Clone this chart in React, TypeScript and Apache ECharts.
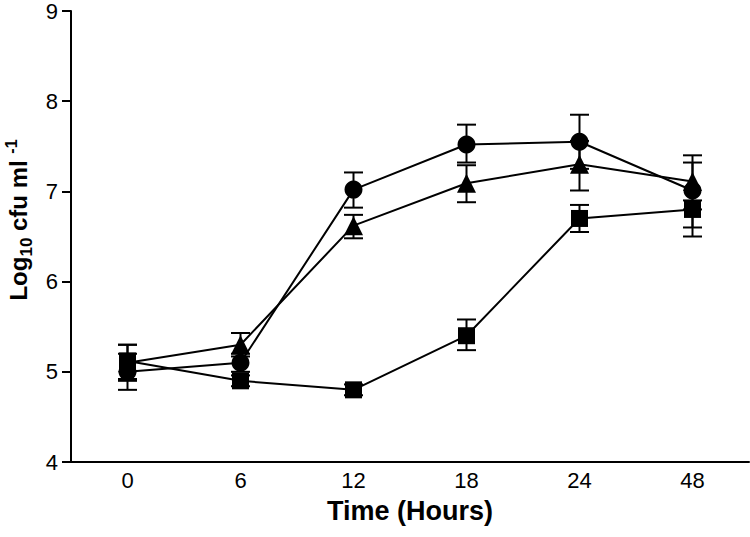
import React, { useEffect, useRef } from "react";
import * as echarts from "echarts";

const categories = ["0", "6", "12", "18", "24", "48"];

const circleMean = [5.0, 5.1, 7.02, 7.52, 7.55, 7.01];
const circleLow = [4.8, 5.0, 6.82, 7.32, 7.25, 6.5];
const circleHigh = [5.2, 5.2, 7.21, 7.74, 7.85, 7.32];

const triangleMean = [5.1, 5.3, 6.62, 7.09, 7.3, 7.11];
const triangleLow = [4.9, 5.17, 6.48, 6.88, 7.01, 6.8];
const triangleHigh = [5.3, 5.43, 6.74, 7.29, 7.56, 7.4];

const squareMean = [5.12, 4.9, 4.8, 5.4, 6.7, 6.8];
const squareLow = [4.92, 4.84, 4.74, 5.24, 6.55, 6.6];
const squareHigh = [5.3, 4.96, 4.86, 5.58, 6.85, 6.9];

const yTicks = { min: 4, max: 9, interval: 1 };

const FONT = "'Liberation Sans', Arial, Helvetica, sans-serif";

function errorSeries(low: number[], high: number[]) {
  return {
    type: "custom",
    silent: true,
    z: 1,
    data: low.map((l, i) => [i, l, high[i]]),
    renderItem: (params: any, api: any) => {
      const x = api.value(0);
      const lo = api.coord([x, api.value(1)]);
      const hi = api.coord([x, api.value(2)]);
      const half = 9.5;
      const style = { stroke: "#000", lineWidth: 2 };
      return {
        type: "group",
        children: [
          { type: "line", shape: { x1: lo[0], y1: lo[1], x2: hi[0], y2: hi[1] }, style },
          { type: "line", shape: { x1: hi[0] - half, y1: hi[1], x2: hi[0] + half, y2: hi[1] }, style },
          { type: "line", shape: { x1: lo[0] - half, y1: lo[1], x2: lo[0] + half, y2: lo[1] }, style },
        ],
      };
    },
  };
}

function lineSeries(name: string, data: number[], symbol: string, size: number) {
  return {
    name,
    type: "line",
    data,
    symbol,
    symbolSize: size,
    showAllSymbol: true,
    z: 3,
    itemStyle: { color: "#000", borderWidth: 0 },
    lineStyle: { color: "#000", width: 2 },
  };
}

export default function App() {
  const ref = useRef<HTMLDivElement>(null);
  useEffect(() => {
    document.body.style.margin = "0";
    const chart = echarts.init(ref.current!, undefined, { renderer: "svg" });
    chart.setOption({
      animation: false,
      backgroundColor: "#fff",
      textStyle: { fontFamily: FONT },
      grid: { left: 71, right: 1, top: 11, bottom: 75, containLabel: false },
      xAxis: {
        type: "category",
        data: categories,
        boundaryGap: true,
        name: "Time (Hours)",
        nameLocation: "middle",
        nameGap: 35,
        nameTextStyle: { fontSize: 27, fontWeight: "bold", color: "#000", fontFamily: FONT },
        axisLine: { lineStyle: { color: "#000", width: 2 } },
        axisTick: { alignWithLabel: true, length: 8, lineStyle: { color: "#000", width: 2 } },
        axisLabel: { fontSize: 22, color: "#000", margin: 7, fontFamily: FONT },
        splitLine: { show: false },
      },
      yAxis: {
        type: "value",
        min: yTicks.min,
        max: yTicks.max,
        interval: yTicks.interval,
        axisLine: { show: true, lineStyle: { color: "#000", width: 2 } },
        axisTick: { show: true, length: 9, lineStyle: { color: "#000", width: 2 } },
        axisLabel: { fontSize: 22, color: "#000", margin: 13, fontFamily: FONT },
        splitLine: { show: false },
      },
      graphic: [
        {
          type: "text",
          x: 18,
          y: 220,
          rotation: Math.PI / 2,
          style: {
            text: "{a|Log}{s|10}{a| cfu ml }{p|-1}",
            align: "center",
            verticalAlign: "middle",
            fill: "#000",
            rich: {
              a: { fontSize: 24, fontWeight: "bold", fontFamily: FONT, color: "#000", lineHeight: 30 },
              s: { fontSize: 17, fontWeight: "bold", fontFamily: FONT, color: "#000", lineHeight: 30, padding: [16, 0, 0, 0] },
              p: { fontSize: 16, fontWeight: "bold", fontFamily: FONT, color: "#000", lineHeight: 30, padding: [0, 0, 14, 0] },
            },
          },
        },
      ],
      series: [
        errorSeries(circleLow, circleHigh),
        errorSeries(triangleLow, triangleHigh),
        errorSeries(squareLow, squareHigh),
        lineSeries("circle", circleMean, "circle", 18),
        lineSeries("triangle", triangleMean, "triangle", 19),
        lineSeries("square", squareMean, "rect", 17),
      ],
    });
    return () => chart.dispose();
  }, []);
  return <div ref={ref} style={{ width: 750, height: 537 }} />;
}
